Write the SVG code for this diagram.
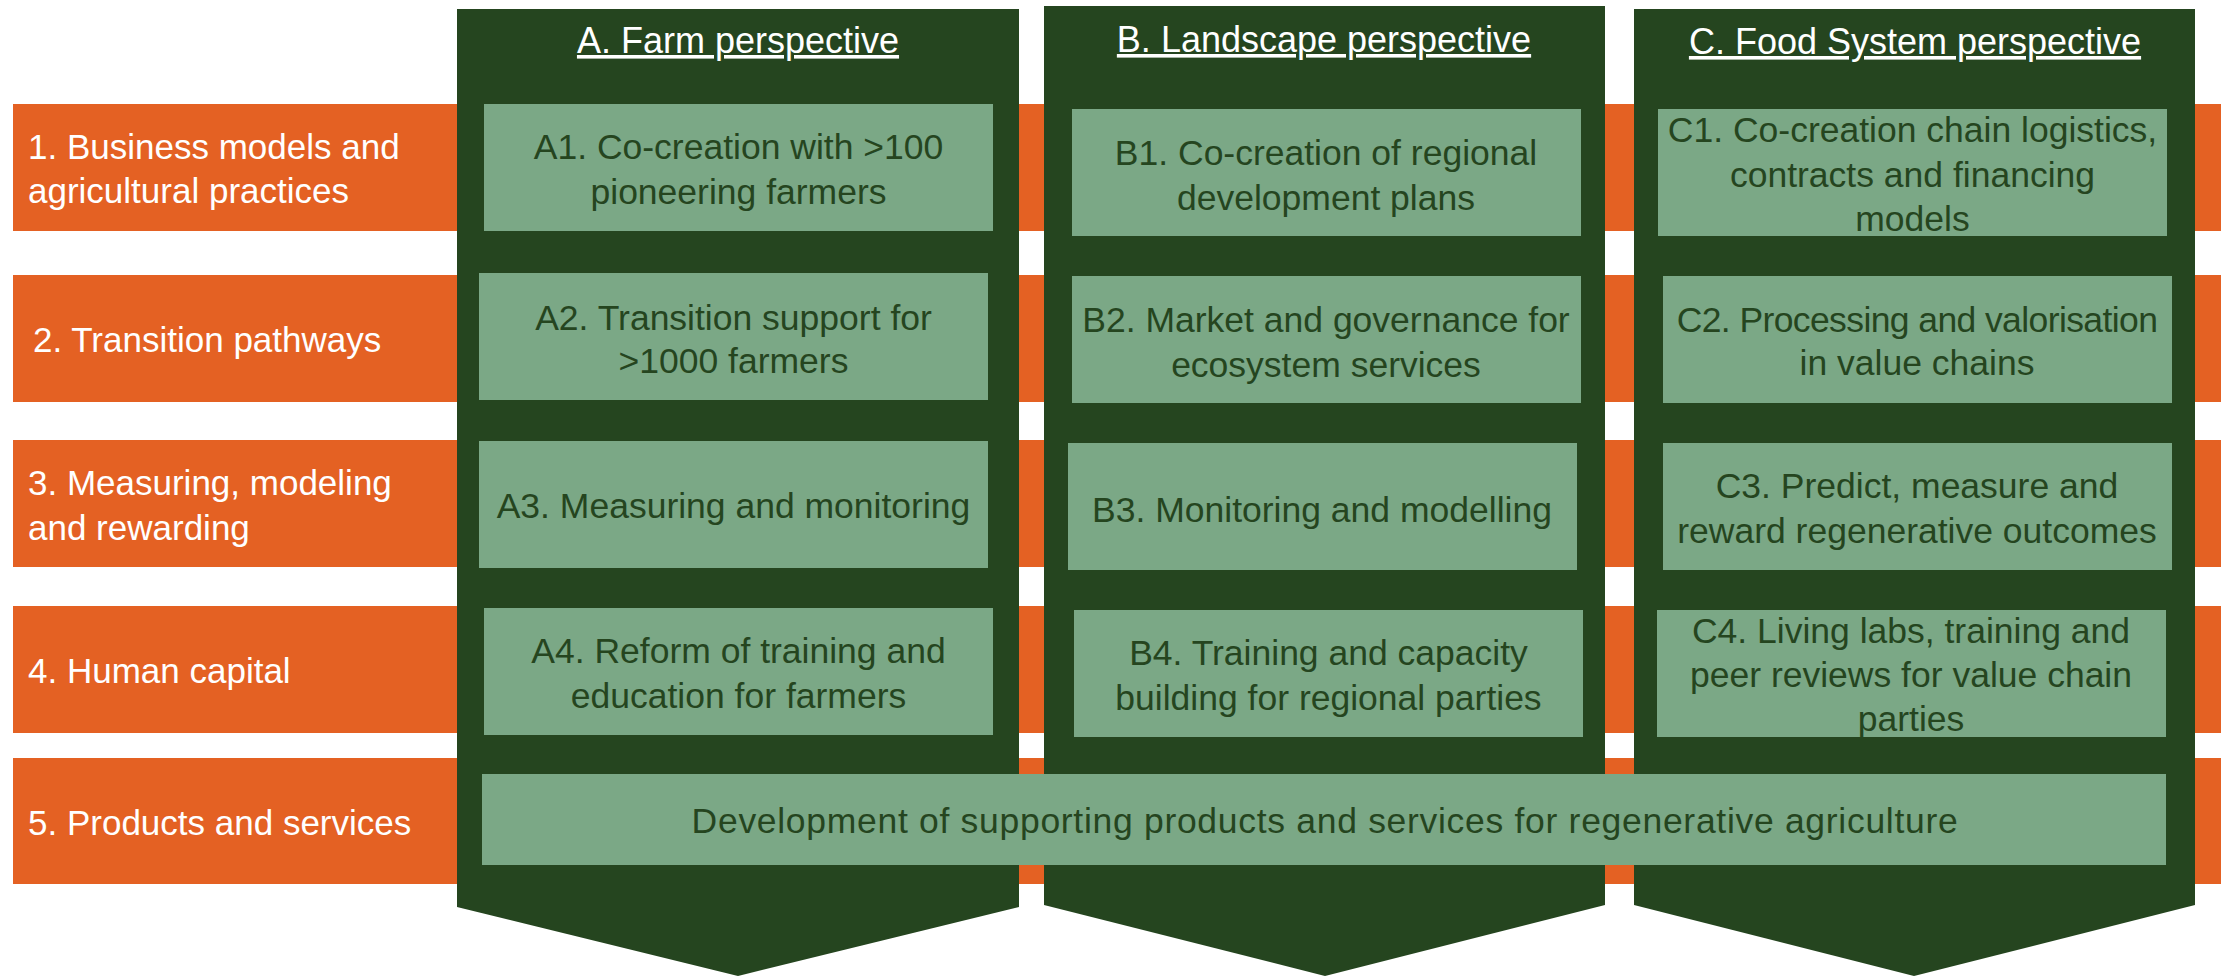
<svg xmlns="http://www.w3.org/2000/svg" width="2221" height="976" viewBox="0 0 2221 976">
<style>
.row{fill:#E46123}
.col{fill:#25451F}
.box{fill:#7BA886}
.lbl{font-family:"Liberation Sans",Arial,sans-serif;font-size:35px;fill:#FFFFFF}
.hdr{font-family:"Liberation Sans",Arial,sans-serif;font-size:36px;fill:#FFFFFF;text-anchor:middle;text-decoration:underline}
.t{font-family:"Liberation Sans",Arial,sans-serif;font-size:35.5px;fill:#25451F;text-anchor:middle}
</style>
<rect width="2221" height="976" fill="#FFFFFF"/>
<g id="rows">
<g id="row1"><rect class="row" x="13" y="104" width="2208" height="127"/><text class="lbl" x="28" y="159">1. Business models and</text><text class="lbl" x="28" y="203">agricultural practices</text></g>
<g id="row2"><rect class="row" x="13" y="275" width="2208" height="127"/><text class="lbl" x="33" y="352">2. Transition pathways</text></g>
<g id="row3"><rect class="row" x="13" y="440" width="2208" height="127"/><text class="lbl" x="28" y="495">3. Measuring, modeling</text><text class="lbl" x="28" y="540">and rewarding</text></g>
<g id="row4"><rect class="row" x="13" y="606" width="2208" height="127"/><text class="lbl" x="28" y="683">4. Human capital</text></g>
<g id="row5"><rect class="row" x="13" y="758" width="2208" height="126"/><text class="lbl" x="28" y="835">5. Products and services</text></g>
</g>
<g id="colA"><polygon class="col" points="457,9 1019,9 1019,907 738,976 457,907"/><text class="hdr" x="738" y="53">A. Farm perspective</text></g>
<g id="colB"><polygon class="col" points="1044,6 1605,6 1605,905 1325,976 1044,905"/><text class="hdr" x="1324" y="52">B. Landscape perspective</text></g>
<g id="colC"><polygon class="col" points="1634,9 2195,9 2195,905 1914,976 1634,905"/><text class="hdr" x="1915" y="54">C. Food System perspective</text></g>
<g id="A1"><rect class="box" x="484" y="104" width="509" height="127"/><text class="t" x="738.5" y="159">A1. Co-creation with &gt;100</text><text class="t" x="738.5" y="204">pioneering farmers</text></g>
<g id="A2"><rect class="box" x="479" y="273" width="509" height="127"/><text class="t" x="733.5" y="330">A2. Transition support for</text><text class="t" x="733.5" y="373">&gt;1000 farmers</text></g>
<g id="A3"><rect class="box" x="479" y="441" width="509" height="127"/><text class="t" x="733.5" y="518">A3. Measuring and monitoring</text></g>
<g id="A4"><rect class="box" x="484" y="608" width="509" height="127"/><text class="t" x="738.5" y="663">A4. Reform of training and</text><text class="t" x="738.5" y="708">education for farmers</text></g>
<g id="B1"><rect class="box" x="1072" y="109" width="509" height="127"/><text class="t" x="1326" y="165">B1. Co-creation of regional</text><text class="t" x="1326" y="210">development plans</text></g>
<g id="B2"><rect class="box" x="1072" y="276" width="509" height="127"/><text class="t" x="1326" y="332">B2. Market and governance for</text><text class="t" x="1326" y="377">ecosystem services</text></g>
<g id="B3"><rect class="box" x="1068" y="443" width="509" height="127"/><text class="t" x="1322" y="522">B3. Monitoring and modelling</text></g>
<g id="B4"><rect class="box" x="1074" y="610" width="509" height="127"/><text class="t" x="1328.5" y="665">B4. Training and capacity</text><text class="t" x="1328.5" y="710">building for regional parties</text></g>
<g id="C1"><rect class="box" x="1658" y="109" width="509" height="127"/><text class="t" x="1912.5" y="142">C1. Co-creation chain logistics,</text><text class="t" x="1912.5" y="187">contracts and financing</text><text class="t" x="1912.5" y="231">models</text></g>
<g id="C2"><rect class="box" x="1663" y="276" width="509" height="127"/><text class="t" x="1917" y="332" letter-spacing="-0.6">C2. Processing and valorisation</text><text class="t" x="1917" y="375">in value chains</text></g>
<g id="C3"><rect class="box" x="1663" y="443" width="509" height="127"/><text class="t" x="1917" y="498">C3. Predict, measure and</text><text class="t" x="1917" y="543">reward regenerative outcomes</text></g>
<g id="C4"><rect class="box" x="1657" y="610" width="509" height="127"/><text class="t" x="1911" y="643">C4. Living labs, training and</text><text class="t" x="1911" y="687">peer reviews for value chain</text><text class="t" x="1911" y="731">parties</text></g>
<g id="P5"><rect class="box" x="482" y="774" width="1684" height="91"/><text class="t" x="1325" y="833" letter-spacing="0.7">Development of supporting products and services for regenerative agriculture</text></g>
<g id="connectors"></g>
</svg>
